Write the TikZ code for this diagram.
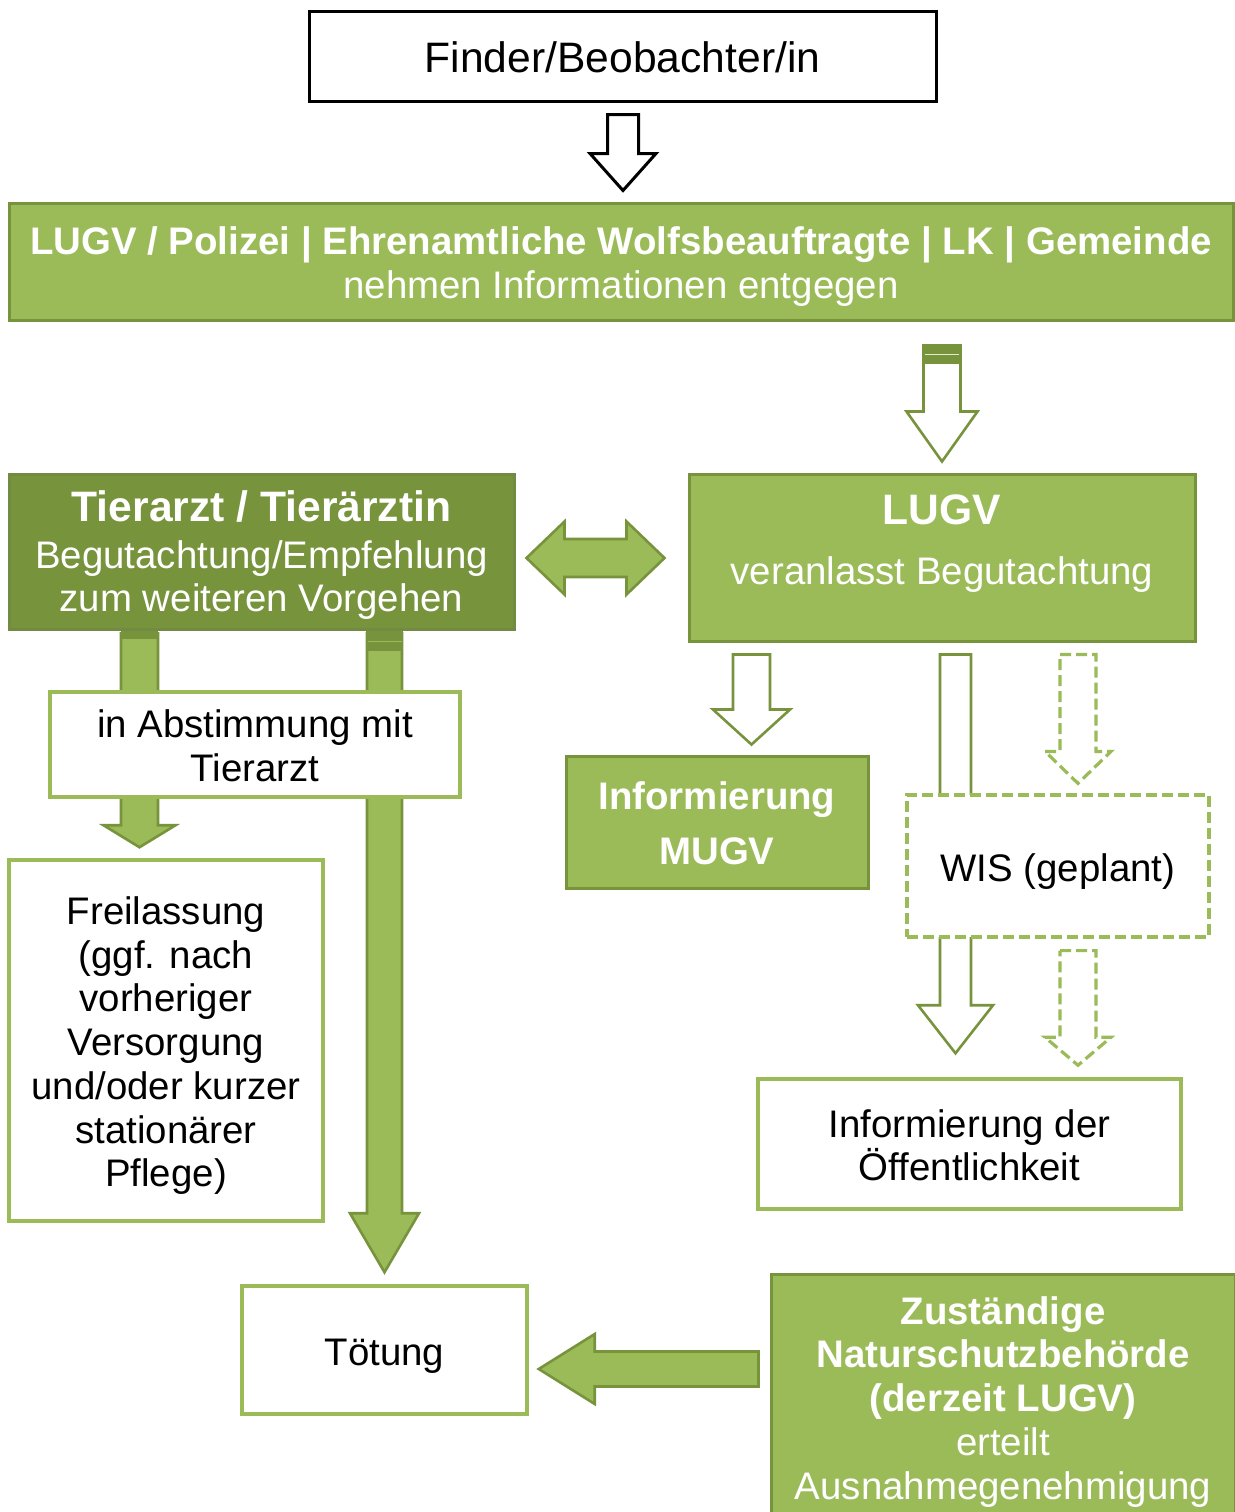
\documentclass[tikz,border=0pt]{standalone}
\usepackage{fontspec}
\setmainfont{Liberation Sans}
\usetikzlibrary{calc}
\definecolor{olgreen}{HTML}{9BBB59}
\definecolor{olframe}{HTML}{77933C}
\definecolor{oldark}{HTML}{77933C}
\definecolor{oldarkframe}{HTML}{728B42}
\newcommand{\bodysize}{\fontsize{19.2pt}{21.85pt}\selectfont}
\newcommand{\headsize}{\fontsize{21.3pt}{21.85pt}\selectfont}
\newcommand{\topline}{\rule{0pt}{1em}}
\newcommand{\botline}{\rule[-0.212em]{0pt}{0pt}}
\def\blockdown[#1](#2)(#3)(#4:#5:#6){\draw[#1] let \p1=(#2), \p2=(#3) in (\x1-#4*0.5pt,\y1) -- (\x1+#4*0.5pt,\y1) -- (\x1+#4*0.5pt,\y2+#6*0.5pt) -- (\x1+#5*0.5pt,\y2+#6*0.5pt) -- (\x1,\y2) -- (\x1-#5*0.5pt,\y2+#6*0.5pt) -- (\x1-#4*0.5pt,\y2+#6*0.5pt) -- cycle;}
\def\blockleft[#1](#2)(#3)(#4:#5:#6){\draw[#1] let \p1=(#2), \p2=(#3) in (\x1,\y1-#4*0.5pt) -- (\x1,\y1+#4*0.5pt) -- (\x2+#6*0.5pt,\y1+#4*0.5pt) -- (\x2+#6*0.5pt,\y1+#5*0.5pt) -- (\x2,\y1) -- (\x2+#6*0.5pt,\y1-#5*0.5pt) -- (\x2+#6*0.5pt,\y1-#4*0.5pt) -- cycle;}
\def\blockboth[#1](#2)(#3)(#4:#5:#6){\draw[#1] let \p1=(#2), \p2=(#3) in (\x1,\y1) -- (\x1+#6*0.5pt,\y1+#5*0.5pt) -- (\x1+#6*0.5pt,\y1+#4*0.5pt) -- (\x2-#6*0.5pt,\y1+#4*0.5pt) -- (\x2-#6*0.5pt,\y1+#5*0.5pt) -- (\x2,\y1) -- (\x2-#6*0.5pt,\y1-#5*0.5pt) -- (\x2-#6*0.5pt,\y1-#4*0.5pt) -- (\x1+#6*0.5pt,\y1-#4*0.5pt) -- (\x1+#6*0.5pt,\y1-#5*0.5pt) -- cycle;}

\begin{document}
\begin{tikzpicture}[x=0.5pt, y=-0.5pt,
		textbox/.style={align=center, inner sep=0pt, font=\bodysize, execute at begin node=\topline, execute at end node=\botline},
		greenbox/.style={textbox, draw=olframe, fill=olgreen, line width=1.5pt, text=white},
		darkbox/.style={textbox, draw=oldarkframe, fill=oldark, line width=1.5pt, text=white},
		whitebox/.style={textbox, draw=olgreen, fill=white, line width=1.75pt},
		hollowarrow/.style={draw=olframe, fill=white, line width=1.3pt, line join=miter},
		fullarrow/.style={draw=olframe, fill=olgreen, line width=1.3pt, line join=miter},
		plannedarrow/.style={draw=olgreen, fill=white, line width=1.6pt, dash pattern=on 5.5pt off 2.5pt}]
		%%%%% START %%%%%
		\useasboundingbox (0,0) rectangle (1235,1512);
		
		\node[textbox, draw=black, line width=1.5pt, minimum width=313.5pt, minimum height=45pt, font=\headsize] (finder) at (622.5,56) {Finder/Beobachter/in};
		
		\node[greenbox, minimum width=612pt, minimum height=58.5pt] (band) at (621,261.5) {\topline\textbf{LUGV / Polizei | Ehrenamtliche Wolfsbeauftragte | LK | Gemeinde}\\nehmen Informationen entgegen};
		
		\blockdown[draw=black, fill=white, line width=1.5pt, line join=miter]({$(finder.south)+(0.5,12)$})({$(band.north)+(0,-11)$})(15.5:33:37);
		
		\node[darkbox, minimum width=252.5pt, minimum height=77.5pt] (tierarzt) at (261.5,551.5) {\topline{\headsize\bfseries Tierarzt / Tierärztin}\\[1.5pt]Begutachtung/Empfehlung\\zum weiteren Vorgehen};
		\node[greenbox, minimum width=253pt, minimum height=83.5pt] (lugv) at (942,557.5) {\topline{\headsize\bfseries LUGV}\\[8pt]veranlasst Begutachtung\\[-4pt]\mbox{}};
		
		\blockdown[hollowarrow]({$(band.south)+(321,24)$})({$(lugv.north)+(0,-11)$})(18.5:35.5:50);
		\fill[olframe] ($(band.south)+(302.5,24)$) rectangle ($(band.south)+(339.5,42)$);
		\draw[white!70!olgreen, line width=0.6pt] ($(band.south)+(304,33)$) -- ($(band.south)+(338,33)$);
		
		\blockboth[fullarrow]({$(tierarzt.east)+(11,6.5)$})({$(lugv.west)+(-23,6.5)$})(19:36.5:38);
		
		\node[greenbox, font=\bodysize\bfseries, minimum width=151pt, minimum height=66pt] (mugv) at (717,822) {\topline Informierung\\[6pt]MUGV};
		\node[whitebox, minimum width=211.5pt, minimum height=65pt] (oeff) at (969.5,1144) {\topline Informierung der\\Öffentlichkeit};
		
		\blockdown[hollowarrow]({$(lugv.south)+(-190.5,12)$})({$(mugv.north)+(0,-10)$})(18.5:38.5:35);
		\blockdown[hollowarrow]({$(lugv.south)+(13.5,12)$})({$(oeff.north)+(0,-24)$})(15.5:37.5:48);
		
		\node[whitebox, dash pattern=on 5.5pt off 2.5pt, line width=1.6pt, minimum width=151pt, minimum height=71pt] (wis) at (1058,866) {WIS (geplant)};
		
		\blockdown[plannedarrow]({$(lugv.south)+(136,12)$})({$(wis.north)+(20,-10)$})(18:33:32);
		\blockdown[plannedarrow]({$(wis.south)+(20,12)$})({$(oeff.north)+(0,-12)$})(18:33:28);
		
		\node[whitebox, minimum width=157pt, minimum height=180.5pt] (frei) at (166,1040.5) {\topline Freilassung\\(ggf. nach\\vorheriger\\Versorgung\\und/oder kurzer\\stationärer\\Pflege)};
		\node[whitebox, minimum width=142.5pt, minimum height=64pt] (toetung) at (384.5,1350) {Tötung};
		
		\blockdown[fullarrow]({$(tierarzt.south)+(-122,3)$})({$(frei.north)+(0,-11)$})(18.5:36:22);
		\fill[olframe] ($(tierarzt.south)+(-140.5,0)$) rectangle ($(tierarzt.south)+(-103.5,8)$);
		\blockdown[fullarrow]({$(tierarzt.south)+(123,3)$})({$(toetung.north)+(0,-12)$})(17.5:34.5:59);
		\fill[olframe] ($(tierarzt.south)+(104.5,0)$) rectangle ($(tierarzt.south)+(141.5,20)$);
		\draw[olgreen, line width=0.8pt] ($(tierarzt.south)+(106,11)$) -- ($(tierarzt.south)+(140,11)$);
		
		\node[whitebox, minimum width=205pt, minimum height=52.5pt] (abst) at (255,744.5) {\topline in Abstimmung mit\\Tierarzt};
		
		\node[greenbox, minimum width=232pt, minimum height=122.5pt] (zust) at (1003,1396.5) {\topline\textbf{Zuständige}\\\textbf{Naturschutzbehörde}\\\textbf{(derzeit LUGV)}\\erteilt\\Ausnahmegenehmigung};
		
		\blockleft[fullarrow]({$(zust.west)+(-11,-27.5)$})({$(toetung.east)+(10,0)$})(17.5:35:56);
		%%%%% END %%%%%
\end{tikzpicture}
\end{document}
